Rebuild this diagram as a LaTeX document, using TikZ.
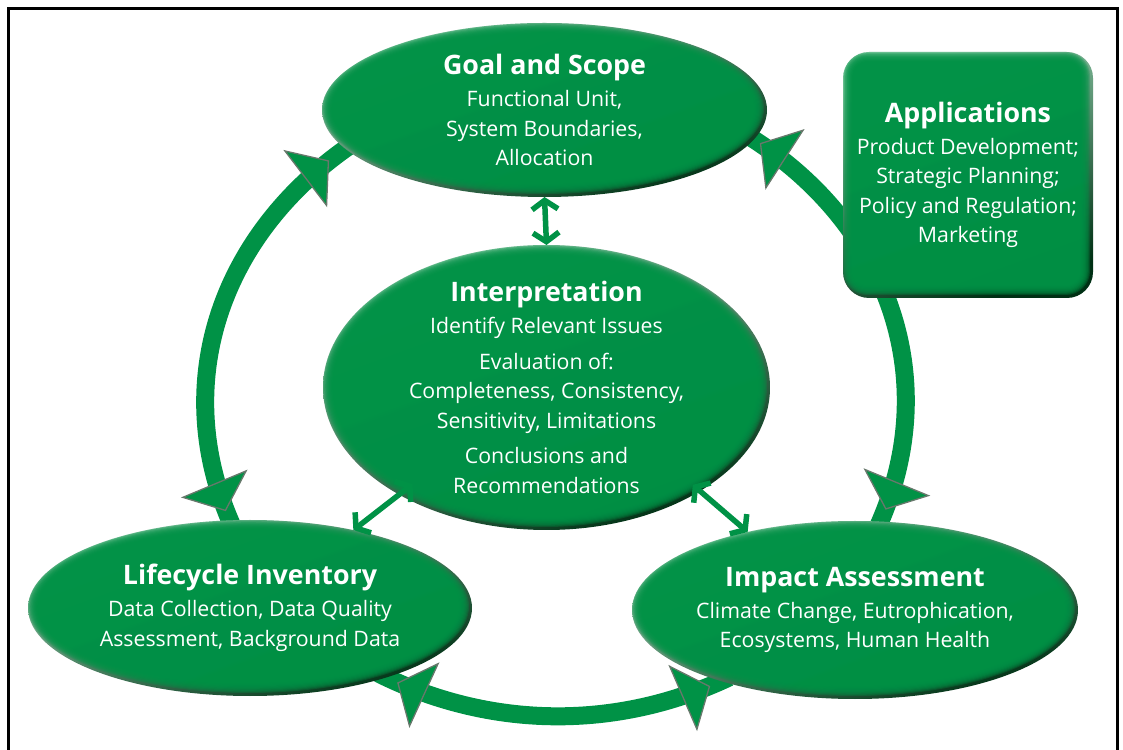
\documentclass[tikz,border=0pt]{standalone}
\usepackage{fontspec}
\setmainfont{Open Sans}
\usetikzlibrary{arrows.meta,shapes.geometric,decorations.markings,backgrounds,calc}

\definecolor{leaf}{RGB}{0,146,70}
\definecolor{rimlight}{RGB}{150,210,176}
\definecolor{rimdark}{RGB}{0,48,20}
\definecolor{tipgray}{RGB}{104,120,108}

\newcommand{\headline}[1]{{\fontsize{26.8}{30}\selectfont\bfseries #1}\\[2.5pt]}

\begin{document}
\begin{tikzpicture}[x=1pt, y=1pt,
    stage/.style={ellipse, inner sep=-40pt, outer sep=0pt, text=white, align=center, font=\fontsize{21.3}{29.5}\selectfont,
        path picture={
            \shade[top color=rimlight, middle color=leaf, bottom color=rimdark, shading angle=20]
                (path picture bounding box.south west) rectangle (path picture bounding box.north east);
            \foreach \k in {0,...,9}
                \fill[leaf, opacity=0.3] let \p1=(path picture bounding box.center), \p2=(path picture bounding box.north east) in
                    (\x1-1.5pt,\y1+1.5pt) ellipse [x radius=\x2-\x1-1.5pt-\k*1.1pt, y radius=\y2-\y1-1.5pt-\k*1.1pt];
        }},
    appbox/.style={rectangle, rounded corners=26pt, outer sep=0pt, text=white, align=center, font=\fontsize{21.3}{29.5}\selectfont,
        path picture={
            \shade[top color=rimlight, middle color=leaf, bottom color=rimdark, shading angle=20]
                (path picture bounding box.south west) rectangle (path picture bounding box.north east);
            \foreach \k in {0,...,9}
                \fill[leaf, opacity=0.3, rounded corners=24pt-\k*1.1pt] let \p1=(path picture bounding box.south west), \p2=(path picture bounding box.north east) in
                    (\x1+\k*1.1pt,\y1+3pt+\k*1.1pt) rectangle (\x2-3pt-\k*1.1pt,\y2-\k*1.1pt);
        }},
    bandtip/.tip={Triangle[length=30pt, width=72pt, line width=1.3pt, color=tipgray, fill=leaf]},
    band/.style 2 args={draw=leaf, line width=18pt, shorten <=-9pt, shorten >=-9pt,
        postaction={decorate, decoration={markings,
            mark=at position #1 with {\arrowreversed{bandtip}},
            mark=at position -#2 with {\arrow{bandtip}}}}},
    link/.style={draw=leaf, line width=5.5pt, >={Straight Barb[length=9pt, width=26pt]}, <->}]

    \useasboundingbox (0,0) rectangle (1123,749);

    \node[stage, minimum width=445pt, minimum height=174pt] (goal) at (544.5,639)
        {\headline{Goal and Scope}Functional Unit,\\System Boundaries,\\Allocation};
    \node[stage, minimum width=447pt, minimum height=285pt] (interp) at (546.5,361.5)
        {\headline{Interpretation}Identify Relevant Issues\\[6pt]Evaluation of:\\Completeness, Consistency,\\Sensitivity, Limitations\\[6pt]Conclusions and\\Recommendations};
    \node[stage, minimum width=444pt, minimum height=176pt] (lci) at (250,141)
        {\headline{Lifecycle Inventory}Data Collection, Data Quality\\Assessment, Background Data};
    \node[stage, minimum width=446pt, minimum height=178pt] (impact) at (855,139)
        {\headline{Impact Assessment}Climate Change, Eutrophication,\\Ecosystems, Human Health};
    \node[appbox, minimum width=250pt, minimum height=246pt] (apps) at (968,574)
        {\headline{Applications}Product Development;\\Strategic Planning;\\Policy and Regulation;\\Marketing};

    % big loop between the three stages
    \begin{scope}[on background layer]
        \foreach \u/\v/\c/\d/\p/\q in {lci.103/goal.191/114.6:146.5/214.2:154.4/10pt/20pt,
                goal.352/impact.74/328.3:161.6/65.2:152.7/7pt/13pt,
                lci.333/impact.208/333.5:115.8/205.3:116/12pt/12pt}{
            \draw[band={\p}{\q}] (\u) .. controls +(\c) and +(\d) .. (\v);
        }
    \end{scope}

    \foreach \u/\v/\s in {goal.south/interp.north/0pt, interp.216/lci.37/-17pt, interp.326/impact.144/-9.5pt}{
        \draw[link, shorten <=\s] (\u) -- (\v);
    }

    \draw[line width=2.7pt] (8.7,-20) rectangle (1117.5,740.3);
\end{tikzpicture}
\end{document}
